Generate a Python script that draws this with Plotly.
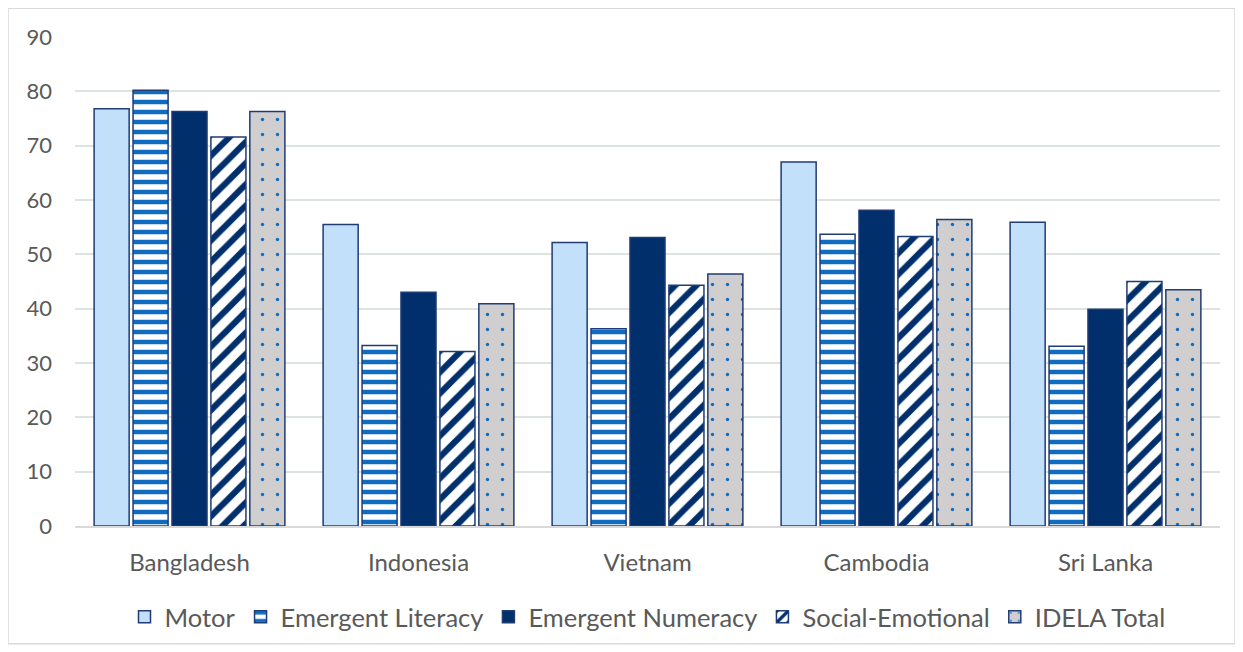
import plotly.graph_objects as go

countries = ["Bangladesh", "Indonesia", "Vietnam", "Cambodia", "Sri Lanka"]
motor = [76.8, 55.5, 52.2, 67.0, 55.9]
literacy = [80.2, 33.2, 36.3, 53.7, 33.1]
numeracy = [76.3, 43.0, 53.1, 58.1, 39.9]
social = [71.6, 32.1, 44.3, 53.3, 45.0]
total = [76.3, 40.9, 46.4, 56.4, 43.5]
y_ticks = [0, 10, 20, 30, 40, 50, 60, 70, 80, 90]

navy = "#1F3C74"
font_col = "#595959"
fnt = "Lato"

fig = go.Figure()
fig.add_bar(name="Motor", x=countries, y=motor,
            marker=dict(color="#C2E0FA", line=dict(color=navy, width=1.5)))
fig.add_bar(name="Emergent Literacy", x=countries, y=literacy,
            marker=dict(color="#0F6CC0", line=dict(color=navy, width=1.5),
                        pattern=dict(shape="-", fgcolor="#0F6CC0", bgcolor="white",
                                     fillmode="replace", size=10, solidity=0.45)))
fig.add_bar(name="Emergent Numeracy", x=countries, y=numeracy,
            marker=dict(color="#002F6C", line=dict(color=navy, width=1.5)))
fig.add_bar(name="Social-Emotional", x=countries, y=social,
            marker=dict(color="#002F6C", line=dict(color=navy, width=1.5),
                        pattern=dict(shape="/", fgcolor="#002F6C", bgcolor="white",
                                     fillmode="replace", size=15, solidity=0.42)))
fig.add_bar(name="IDELA Total", x=countries, y=total,
            marker=dict(color="#D0CECE", line=dict(color=navy, width=1.5),
                        pattern=dict(shape=".", fgcolor="#0F6CC0", bgcolor="#D0CECE",
                                     fillmode="replace", size=15, solidity=0.04)))

fig.update_layout(
    width=1235, height=644,
    barmode="group", bargap=0.15, bargroupgap=0.1,
    plot_bgcolor="white", paper_bgcolor="white",
    margin=dict(l=67, r=23, t=29, b=125),
    font=dict(family=fnt, color=font_col, size=21),
    showlegend=True,
    legend=dict(orientation="h", x=0.5, xanchor="center", y=-0.184, yanchor="middle",
                font=dict(size=25.5, color=font_col), traceorder="normal",
                itemwidth=30),
    yaxis=dict(range=[0, 90], tickvals=y_ticks, showgrid=True, gridcolor="#DDE3DD",
               gridwidth=1.5, zeroline=False, showline=False, ticks="",
               tickfont=dict(size=22, color=font_col), ticklabelstandoff=22),
    xaxis=dict(showline=True, linecolor="#D9D9D9", linewidth=1.5, ticks="",
               tickfont=dict(size=24, color=font_col), ticklabelstandoff=14),
    shapes=[dict(type="rect", xref="paper", yref="paper",
                 x0=-0.0585, x1=1.0131, y0=-0.2408, y1=1.059,
                 line=dict(color="#D9D9D9", width=1.5), fillcolor="rgba(0,0,0,0)",
                 layer="below")],
)

fig.write_html("out.html")
